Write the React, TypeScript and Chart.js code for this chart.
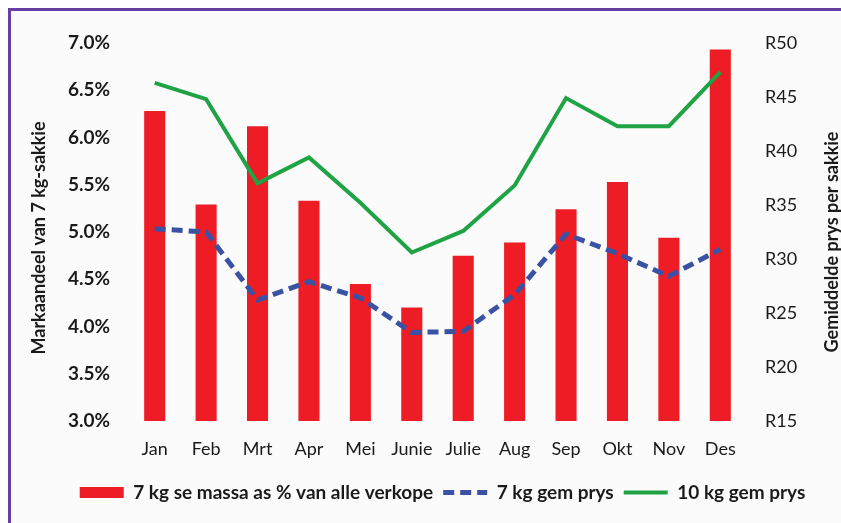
import React, { useEffect, useRef } from "react";
import { Chart, registerables } from "chart.js";

Chart.register(...registerables);

const months = ["Jan", "Feb", "Mrt", "Apr", "Mei", "Junie", "Julie", "Aug", "Sep", "Okt", "Nov", "Des"];
const marketShare = [6.28, 5.29, 6.12, 5.33, 4.45, 4.2, 4.75, 4.89, 5.24, 5.53, 4.94, 6.93];
const price7kg = [32.8, 32.5, 26.2, 27.9, 26.4, 23.2, 23.3, 26.7, 32.3, 30.5, 28.4, 30.9];
const price10kg = [46.3, 44.8, 37.0, 39.4, 35.2, 30.6, 32.6, 36.8, 44.9, 42.3, 42.3, 47.3];
const seriesLabels = ["7 kg se massa as % van alle verkope", "7 kg gem prys", "10 kg gem prys"];
const leftTitle = "Markaandeel van 7 kg-sakkie";
const rightTitle = "Gemiddelde prys per sakkie";

const FONT = "Lato, 'Open Sans', sans-serif";
const TEXT = "#1a1a1a";
const FRAME = "#6a3fa3";

const framePlugin = {
  id: "frame",
  beforeDraw(chart: any) {
    const ctx = chart.ctx;
    ctx.save();
    ctx.fillStyle = "#ffffff";
    ctx.fillRect(0, 0, chart.width, chart.height);
    ctx.fillStyle = "#fbfbfb";
    ctx.fillRect(11, 11, chart.width - 11, chart.height - 11);
    ctx.fillStyle = FRAME;
    ctx.fillRect(8, 8, chart.width - 8, 3);
    ctx.fillRect(8, 8, 3, chart.height - 8);
    ctx.restore();
  },
};

const titlePlugin = {
  id: "axisTitles",
  afterDraw(chart: any) {
    const ctx = chart.ctx;
    ctx.save();
    ctx.fillStyle = TEXT;
    ctx.font = `bold 18px ${FONT}`;
    ctx.textAlign = "center";
    ctx.textBaseline = "middle";
    ctx.save();
    ctx.translate(39, 238);
    ctx.rotate(-Math.PI / 2);
    ctx.fillText(leftTitle, 0, 0);
    ctx.restore();
    ctx.save();
    ctx.translate(832, 242);
    ctx.rotate(-Math.PI / 2);
    ctx.fillText(rightTitle, 0, 0);
    ctx.restore();
    ctx.restore();
  },
};

export default function App() {
  const ref = useRef<HTMLCanvasElement>(null);
  useEffect(() => {
    if (!ref.current) return;
    const chart = new Chart(ref.current, {
      type: "bar",
      data: {
        labels: months,
        datasets: [
          {
            type: "bar",
            label: seriesLabels[0],
            data: marketShare,
            backgroundColor: "#ee1c24",
            borderWidth: 0,
            barPercentage: 0.41,
            categoryPercentage: 1,
            yAxisID: "y",
            order: 3,
          },
          {
            type: "line",
            label: seriesLabels[1],
            data: price7kg,
            borderColor: "#3a52a3",
            backgroundColor: "#3a52a3",
            borderWidth: 5,
            borderDash: [11, 6],
            pointRadius: 0,
            tension: 0,
            yAxisID: "y2",
            order: 2,
          },
          {
            type: "line",
            label: seriesLabels[2],
            data: price10kg,
            borderColor: "#1fa344",
            backgroundColor: "#1fa344",
            borderWidth: 4,
            pointRadius: 0,
            tension: 0,
            yAxisID: "y2",
            order: 1,
          },
        ],
      } as any,
      options: {
        animation: false,
        responsive: false,
        maintainAspectRatio: false,
        layout: { padding: { left: 44, top: 43, right: 0, bottom: 11 } },
        plugins: {
          tooltip: { enabled: false },
          legend: {
            position: "bottom",
            labels: {
              usePointStyle: true,
              pointStyleWidth: 44,
              boxHeight: 11,
              padding: 10,
              color: TEXT,
              font: { family: FONT, size: 19, weight: "bold" },
              generateLabels: (c: any) =>
                c.data.datasets.map((ds: any, i: number) => ({
                  text: ds.label,
                  fillStyle: ds.backgroundColor,
                  strokeStyle: ds.borderColor,
                  lineWidth: ds.type === "line" ? ds.borderWidth : 0,
                  lineDash: ds.borderDash || [],
                  pointStyle: ds.type === "line" ? "line" : "rect",
                  hidden: false,
                  datasetIndex: i,
                  fontColor: TEXT,
                })),
            },
          },
        },
        scales: {
          x: {
            grid: { display: false, drawTicks: false },
            border: { display: false },
            ticks: { color: TEXT, padding: 17, font: { family: FONT, size: 18 } },
            afterFit: (s: any) => { s.height = 52; },
          },
          y: {
            position: "left",
            min: 3,
            max: 7,
            grid: { display: false, drawTicks: false },
            border: { display: false },
            ticks: {
              stepSize: 0.5,
              padding: 19,
              color: TEXT,
              font: { family: FONT, size: 19, weight: "bold" },
              callback: (v: any) => Number(v).toFixed(1) + "%",
            },
            afterFit: (s: any) => { s.width = 85; },
          },
          y2: {
            position: "right",
            min: 15,
            max: 50,
            grid: { display: false, drawTicks: false },
            border: { display: false },
            ticks: {
              stepSize: 5,
              padding: 19,
              color: TEXT,
              font: { family: FONT, size: 18 },
              callback: (v: any) => "R" + v,
            },
            afterFit: (s: any) => { s.width = 95; },
          },
        },
      } as any,
      plugins: [framePlugin, titlePlugin],
    });
    return () => chart.destroy();
  }, []);
  return (
    <div style={{ position: "fixed", left: 0, top: 0, width: 841, height: 523, overflow: "hidden" }}>
      <canvas ref={ref} width={841} height={523} style={{ display: "block" }} />
    </div>
  );
}
